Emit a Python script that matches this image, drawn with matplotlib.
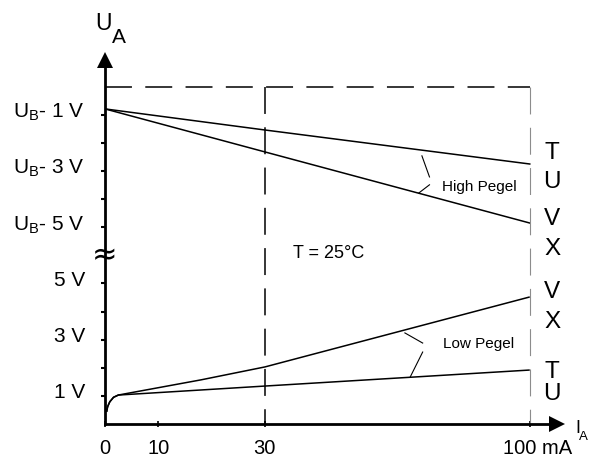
import numpy as np
import matplotlib.pyplot as plt
from matplotlib.transforms import ScaledTranslation

plt.rcParams['font.family'] = 'Liberation Sans'
plt.rcParams['mathtext.fontset'] = 'custom'
plt.rcParams['mathtext.rm'] = 'Liberation Sans'
plt.rcParams['mathtext.it'] = 'Liberation Sans'
plt.rcParams['lines.scale_dashes'] = False

# axis position of U_B (upper part of the broken y axis: U_B - k  ->  UB - k)
UB = 12

# low level curves (I in mA, U in V)
knee_i = [0.3, 0.5, 0.9, 1.6, 2.5]
knee_u = [0.43, 0.62, 0.79, 0.95, 1.03]
low_i = knee_i + [18, 30, 100]
low_vx_u = knee_u + [1.57, 2.03, 4.52]
low_tu_u = knee_u + [1.21, 1.35, 1.92]

# high level curves, drop below U_B in V
high_i = [0, 30, 100]
high_tu_drop = [0.79, 1.54, 2.75]
high_vx_drop = [0.79, 2.32, 4.85]

xticks = [0, 10, 30, 100]
xlabels = ['0', '10', '30', '100 mA']
yticks = [1, 3, 5, UB - 5, UB - 3, UB - 1]
ylabels = ['1 V', '3 V', '5 V',
           r'$\mathregular{U_B}$- 5 V', r'$\mathregular{U_B}$- 3 V', r'$\mathregular{U_B}$- 1 V']
yminor = [2, 4, UB - 4, UB - 2]

# pin letters at the right end
pins = ['T', 'U', 'V', 'X', 'V', 'X', 'T', 'U']
pins_y = [9.43, 8.40, 7.08, 6.01, 4.48, 3.42, 1.64, 0.85]

# x axis is compressed above 30 mA
K = 0.71
def fwd(x):
    x = np.asarray(x, float)
    return np.where(x <= 30, x, 30 + (x - 30) * K)
def inv(p):
    p = np.asarray(p, float)
    return np.where(p <= 30, p, 30 + (p - 30) / K)

fig = plt.figure(figsize=(5.91, 4.59), dpi=100)
ax = fig.add_axes([105/591, 35/459, 452/591, 364/459])
ax.set_xscale('function', functions=(fwd, inv))
ax.set_xlim(0, 107.2)
ax.set_ylim(0, 12.95)

lw = 1.1
ax.plot(low_i, low_vx_u, color='k', lw=lw, solid_capstyle='butt')
ax.plot(low_i, low_tu_u, color='k', lw=lw, solid_capstyle='butt')
ax.plot(high_i, UB - np.array(high_tu_drop), color='k', lw=lw)
ax.plot(high_i, UB - np.array(high_vx_drop), color='k', lw=lw)

dash = (19.4, 9.6)
ax.plot([0, 100], [UB, UB], color='k', lw=1.1, dashes=dash)
ax.plot([30, 30], [UB, 0], color='k', lw=1.1, dashes=dash)
ax.plot([100, 100], [UB, 0], color='0.55', lw=0.8, dashes=dash)

# leader lines
ax.plot([71.5, 73.5], [9.54, 8.79], color='k', lw=0.8)
ax.plot([73.5, 70.7], [8.51, 8.22], color='k', lw=0.8)
ax.plot([67.0, 71.7], [3.24, 2.88], color='k', lw=0.8)
ax.plot([71.7, 68.4], [2.56, 1.67], color='k', lw=0.8)

ax.text(76.8, 8.29, 'High Pegel', fontsize=11, va='baseline')
ax.text(77.0, 2.70, 'Low Pegel', fontsize=11, va='baseline')
ax.text(37.4, 5.91, 'T = 25°C', fontsize=13, va='baseline')
for p, y in zip(pins, pins_y):
    ax.text(105.9, y, p, fontsize=17.5, ha='center', va='baseline')

# spines, arrows, break mark
for s in ['top', 'right']:
    ax.spines[s].set_visible(False)
for s in ['left', 'bottom']:
    ax.spines[s].set_linewidth(2)
ax.plot(1, 0, '>k', ms=11, mew=0, transform=ax.transAxes, clip_on=False)
ax.plot(0, 1, '^k', ms=11, mew=0, transform=ax.transAxes, clip_on=False)
ax.text(0, 5.98, '≈', fontsize=22, ha='center', va='center', family='DejaVu Sans')

ax.set_xticks(xticks, xlabels)
ax.set_yticks(yticks, ylabels)
ax.set_yticks(yminor, minor=True)
ax.tick_params(axis='x', direction='inout', length=4, width=1.2, pad=8.5, labelsize=14.5)
ax.tick_params(axis='y', which='both', direction='out', length=2.9, width=1.5, pad=11.5, labelsize=15)

lab = ax.xaxis.get_major_ticks()[-1].label1
lab.set_transform(lab.get_transform() + ScaledTranslation(0.08, 0, fig.dpi_scale_trans))
for t in ax.yaxis.get_major_ticks():
    t.label1.set_transform(t.label1.get_transform() + ScaledTranslation(0, 0.05, fig.dpi_scale_trans))

# axis titles
fig.text(95/591, 1 - 30/459, 'U', fontsize=16.5, va='baseline')
fig.text(112/591, 1 - 43/459, 'A', fontsize=15, va='baseline')
fig.text(575/591, 1 - 433/459, 'I', fontsize=13, va='baseline')
fig.text(579/591, 1 - 440/459, 'A', fontsize=9.5, va='baseline')

fig.savefig('out.png', dpi=100)
